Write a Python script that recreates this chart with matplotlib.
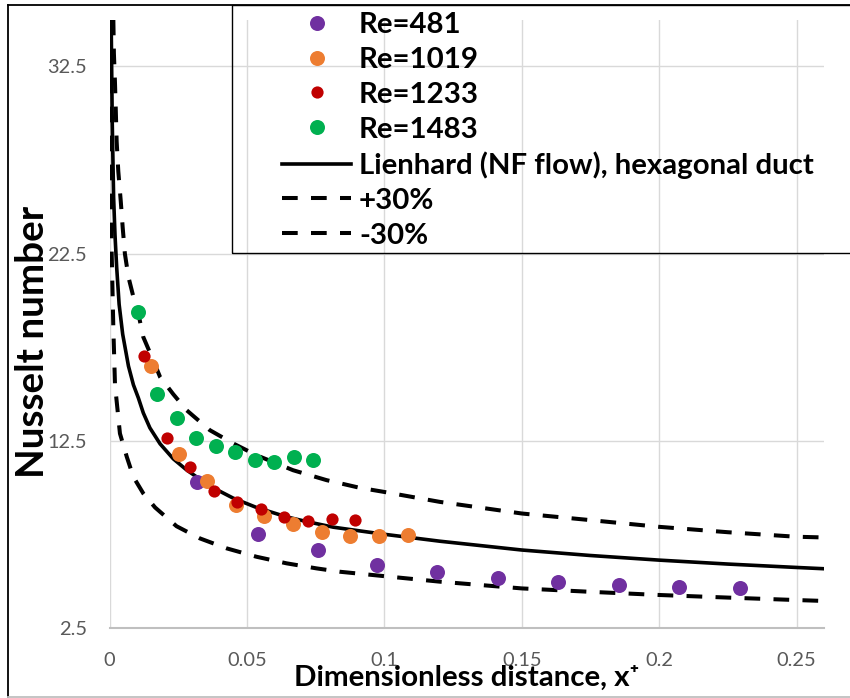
import matplotlib
matplotlib.use("Agg")
import matplotlib.pyplot as plt
from matplotlib.lines import Line2D
from matplotlib.patches import Rectangle

# ---------------- data ----------------
re481_x = [0.0319, 0.0540, 0.0757, 0.0972, 0.1193, 0.1412, 0.1632, 0.1853, 0.2073, 0.2294]
re481_nu = [10.30, 7.51, 6.68, 5.90, 5.49, 5.17, 4.95, 4.81, 4.70, 4.63]

re1019_x = [0.0151, 0.0253, 0.0355, 0.0459, 0.0564, 0.0667, 0.0772, 0.0876, 0.0981, 0.1087]
re1019_nu = [16.51, 11.80, 10.34, 9.06, 8.49, 8.05, 7.64, 7.44, 7.44, 7.48]

re1233_x = [0.0124, 0.0209, 0.0294, 0.0380, 0.0465, 0.0551, 0.0636, 0.0722, 0.0808, 0.0894]
re1233_nu = [17.04, 12.65, 11.10, 9.84, 9.27, 8.85, 8.42, 8.24, 8.33, 8.26]

re1483_x = [0.0105, 0.0174, 0.0246, 0.0316, 0.0386, 0.0458, 0.0528, 0.0599, 0.0671, 0.0741]
re1483_nu = [19.39, 15.01, 13.75, 12.65, 12.22, 11.90, 11.48, 11.39, 11.65, 11.46]

lien_x = [0.0006, 0.0010, 0.0015, 0.0020, 0.0026, 0.0035, 0.0048, 0.0069, 0.0087, 0.0105,
          0.0123, 0.0147, 0.0184, 0.0232, 0.0281, 0.0330, 0.0380, 0.0450, 0.0535, 0.0644,
          0.0717, 0.0814, 0.0911, 0.1000, 0.1202, 0.1500, 0.1747, 0.2000, 0.2250, 0.2498, 0.2600]
lien_nu = [35.0, 29.5, 25.5, 23.5, 21.8, 19.8, 18.2, 16.5, 15.5, 14.8,
           14.0, 13.2, 12.35, 11.55, 10.95, 10.45, 9.98, 9.45, 8.95, 8.45,
           8.20, 7.90, 7.70, 7.52, 7.15, 6.68, 6.39, 6.14, 5.93, 5.75, 5.68]

plus_x = [0.0014, 0.0016, 0.0020, 0.0023, 0.0026, 0.0032, 0.0041, 0.0048, 0.0056, 0.0069,
          0.0087, 0.0105, 0.0123, 0.0159, 0.0184, 0.0232, 0.0281, 0.0365, 0.0450, 0.0535,
          0.0668, 0.0790, 0.0911, 0.0996, 0.1202, 0.1500, 0.1747, 0.1998, 0.2250, 0.2497, 0.2600]
plus_nu = [35.0, 33.2, 31.6, 30.1, 28.5, 26.9, 25.3, 23.9, 22.5, 21.25,
           20.19, 19.30, 18.05, 16.81, 15.92, 15.00, 14.14, 13.08, 12.37, 11.74,
           10.94, 10.41, 10.00, 9.79, 9.25, 8.63, 8.28, 7.92, 7.63, 7.39, 7.35]

minus_x = [0.0002, 0.0005, 0.0008, 0.0014, 0.0020, 0.0038, 0.0063, 0.0087, 0.0123, 0.0166,
           0.0244, 0.0329, 0.0426, 0.0535, 0.0644, 0.0753, 0.0838, 0.0996, 0.1202, 0.1500,
           0.1747, 0.1998, 0.2250, 0.2497, 0.2600]
minus_nu = [35.0, 28.0, 22.5, 18.5, 15.5, 12.9, 11.65, 10.58, 9.70, 8.95,
            7.95, 7.30, 6.77, 6.32, 5.97, 5.70, 5.52, 5.29, 4.99, 4.63,
            4.45, 4.28, 4.14, 4.01, 3.96]

x_ticks = [0, 0.05, 0.1, 0.15, 0.2, 0.25]
x_tick_labels = ["0", "0.05", "0.1", "0.15", "0.2", "0.25"]
y_ticks = [2.5, 12.5, 22.5, 32.5]
y_tick_labels = ["2.5", "12.5", "22.5", "32.5"]

labels = ["Re=481", "Re=1019", "Re=1233", "Re=1483",
          "Lienhard (NF flow), hexagonal duct", "+30%", "-30%"]
x_title = "Dimensionless distance, x\u207a"
y_title = "Nusselt number"

# ---------------- styling ----------------
FONT = ["Lato", "DejaVu Sans"]
plt.rcParams["font.family"] = FONT

W, H = 850, 698
fig = plt.figure(figsize=(W / 100, H / 100), dpi=100)
renderer = fig.canvas.get_renderer()


def fit_size(s, target_px, weight="normal", start=14.0):
    t = fig.text(0, 0, s, fontsize=start, weight=weight, family=FONT)
    w = t.get_window_extent(renderer=renderer).width
    t.remove()
    return start * target_px / w


tick_fs = fit_size("0.05", 40)
title_fs = fit_size(x_title, 347, weight="bold")
ytitle_fs = fit_size(y_title, 275, weight="bold")
leg_fs = fit_size(labels[4], 460, weight="bold")
leg_px = leg_fs * 100 / 72

L, R, T, B = 109.5, 824.0, 19.6, 628.3
ax = fig.add_axes([L / W, (H - B) / H, (R - L) / W, (B - T) / H])
ax.set_xlim(0, 0.26)
ax.set_ylim(2.5, 35)
ax.set_xticks(x_ticks)
ax.set_xticklabels(x_tick_labels)
ax.set_yticks(y_ticks)
ax.set_yticklabels(y_tick_labels)
ax.grid(True, color="#D9D9D9", lw=1.0)
ax.set_axisbelow(True)
for s in ["left", "top", "right"]:
    ax.spines[s].set_visible(False)
ax.spines["bottom"].set_color("#BFBFBF")
ax.spines["bottom"].set_linewidth(1.5)
ax.tick_params(axis="both", length=0, labelsize=tick_fs, colors="#595959")
ax.tick_params(axis="x", pad=17)
ax.tick_params(axis="y", pad=16.5)

dash = (0, (3.9, 3.3))
h_lien, = ax.plot(lien_x, lien_nu, color="black", lw=2.6, zorder=3, label=labels[4])
h_plus, = ax.plot(plus_x, plus_nu, color="black", lw=2.9, ls=dash, zorder=3, label=labels[5])
h_minus, = ax.plot(minus_x, minus_nu, color="black", lw=2.9, ls=dash, zorder=3, label=labels[6])

h481, = ax.plot(re481_x, re481_nu, "o", color="#7030A0", ms=10.8, mec="none", zorder=4, label=labels[0])
h1019, = ax.plot(re1019_x, re1019_nu, "o", color="#ED7D31", ms=10.8, mec="none", zorder=5, label=labels[1])
h1233, = ax.plot(re1233_x, re1233_nu, "o", color="#C00000", ms=8.8, mec="none", zorder=6, label=labels[2])
h1483, = ax.plot(re1483_x, re1483_nu, "o", color="#00B050", ms=10.8, mec="none", zorder=7, label=labels[3])

fig.text(466.7 / W, 1 - 686 / H, x_title, ha="center", va="baseline",
         fontsize=title_fs, weight="bold", color="black", family=FONT)
fig.text(44.5 / W, 1 - 342 / H, y_title, ha="center", va="baseline", rotation=90,
         rotation_mode="anchor", fontsize=ytitle_fs, weight="bold", color="black",
         family=FONT)

leg = fig.legend(handles=[h481, h1019, h1233, h1483, h_lien, h_plus, h_minus],
                 labels=labels, loc="upper left",
                 bbox_to_anchor=(282 / W, 1 - 12 / H), frameon=False,
                 prop={"family": FONT, "weight": "bold", "size": leg_fs},
                 handlelength=69 / leg_px, handletextpad=8 / leg_px,
                 labelspacing=0.3, borderpad=0, borderaxespad=0, numpoints=1)

fig.add_artist(Rectangle((232 / W, 1 - 252.7 / H), (880 - 232) / W, (252.7 - 5) / H,
                         transform=fig.transFigure, fill=False, ec="black", lw=1.0))
fig.add_artist(Line2D([8.3 / W, 8.3 / W], [1 - 5 / H, 1 - 697 / H],
                      transform=fig.transFigure, color="black", lw=1.3))
fig.add_artist(Line2D([8.3 / W, 1.0], [1 - 5 / H, 1 - 5 / H],
                      transform=fig.transFigure, color="black", lw=1.3))
fig.add_artist(Line2D([8.3 / W, 1.0], [1 - 697 / H, 1 - 697 / H],
                      transform=fig.transFigure, color="#BFBFBF", lw=1.3))

fig.savefig("out.png", dpi=100)
